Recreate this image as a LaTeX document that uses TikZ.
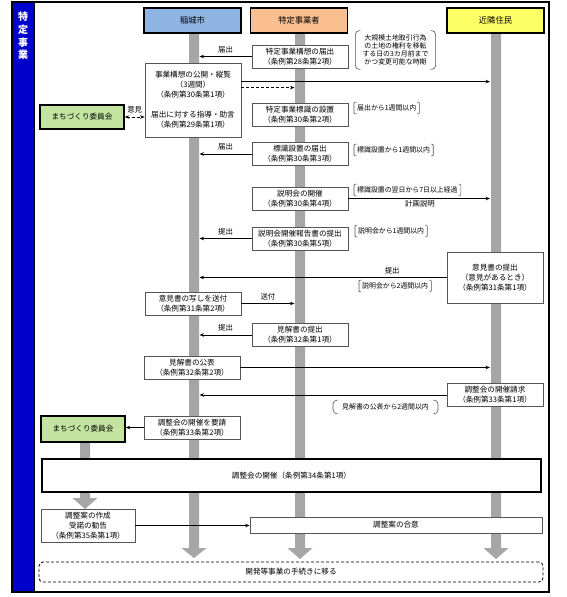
\documentclass[tikz,border=0pt]{standalone}
\usepackage{fontspec}
\setmainfont{Noto Sans CJK JP}
\usetikzlibrary{arrows.meta,calc}
\definecolor{barg}{HTML}{A6A6A6}
\definecolor{hblue}{HTML}{8DB4E2}
\definecolor{horange}{HTML}{FABF8F}
\definecolor{hyellow}{HTML}{FFFF66}
\definecolor{mgreen}{HTML}{C2E4A0}
\definecolor{band}{HTML}{0000CC}
\definecolor{boxline}{HTML}{555555}
\newcommand\greybar[4]{\fill[barg] (#1-5,#2) -- (#1+5,#2) -- (#1+5,#3) -- (#1+12.5,#3) -- (#1,#4) -- (#1-12.5,#3) -- (#1-5,#3) -- cycle;}
\newcommand\sqbrk[1]{%
  \draw[brkline,rounded corners=1pt] ($(#1.north west)+(2.5,0)$) -- (#1.north west) -- (#1.south west) -- ($(#1.south west)+(2.5,0)$);
  \draw[brkline,rounded corners=1pt] ($(#1.north east)+(-2.5,0)$) -- (#1.north east) -- (#1.south east) -- ($(#1.south east)+(-2.5,0)$);}
\newcommand\rdbrk[1]{%
  \draw[brkline,rounded corners=4pt] ($(#1.north west)+(5,0)$) -- (#1.north west) -- (#1.south west) -- ($(#1.south west)+(5,0)$);
  \draw[brkline,rounded corners=4pt] ($(#1.north east)+(-5,0)$) -- (#1.north east) -- (#1.south east) -- ($(#1.south east)+(-5,0)$);}
\tikzset{
  box/.style={draw=boxline, line width=0.8pt, fill=white, align=center, font=\fontsize{7.6}{10}\selectfont, inner sep=0pt, minimum width=96pt, minimum height=23pt},
  head/.style={draw=black, line width=1.6pt, align=center, font=\fontsize{8.3}{10}\selectfont, inner sep=0pt, minimum height=25pt, minimum width=97pt},
  iinkai/.style={draw=black, line width=1.4pt, fill=mgreen, font=\fontsize{7.6}{10}\selectfont, inner sep=0pt, minimum width=84pt, minimum height=24pt},
  note/.style={font=\fontsize{6.9}{8}\selectfont, inner xsep=3pt, inner ysep=2.5pt, align=center},
  brkline/.style={draw=boxline, line width=0.6pt},
  arr/.style={-{Stealth[length=4.5pt,width=3.5pt]}, line width=0.9pt},
  arrboth/.style={{Stealth[length=4.5pt,width=3.5pt]}-{Stealth[length=4.5pt,width=3.5pt]}, line width=0.9pt},
  dsh/.style={dash pattern=on 3pt off 2pt},
  lbl/.style={font=\fontsize{7.4}{9}\selectfont, inner sep=0pt},
}
\begin{document}
\begin{tikzpicture}[x=1pt,y=-1pt]
\useasboundingbox (0,0) rectangle (567,597);
% frame
\fill[white] (12,2) rectangle (549,592);
\fill[band] (12,2) rectangle (34,592);
\draw[line width=1pt] (34,2) -- (34,592);
\draw[line width=1.5pt] (12,2) rectangle (549,592);
\node[text=white, align=center, font=\fontsize{10}{12.7}\selectfont\bfseries, inner sep=0pt] (bandlabel) at (23,36) {特\\定\\事\\業};
% lifelines
\greybar{194}{33}{548}{558}
\greybar{300}{33}{548}{559}
\greybar{496}{33}{548}{559}
\greybar{85}{442}{498}{509}
\coordinate (cityE) at (199.5,0);
\coordinate (bizW) at (294.5,0);
\coordinate (resW) at (490,0);
% headers
\node[head,fill=hblue] (h1) at (192.5,20.5) {稲城市};
\node[head,fill=horange] (h2) at (299,20.5) {特定事業者};
\node[head,fill=hyellow] (h3) at (495.5,20.5) {近隣住民};
% boxes
\node[box] (b28) at (300,56.5) {特定事業構想の届出\\（条例第28条第2項）};
\node[box, minimum height=74pt] (b30a) at (193,100) {事業構想の公開・縦覧\\（3週間）\\（条例第30条第1項）\\[10pt]届出に対する指導・助言\\（条例第29条第1項）};
\node[iinkai] (m1) at (82,117) {まちづくり委員会};
\node[box] (b30b) at (300,115) {特定事業標識の設置\\（条例第30条第2項）};
\node[box] (b30c) at (300,154) {標識設置の届出\\（条例第30条第3項）};
\node[box] (b30d) at (300,198.5) {説明会の開催\\（条例第30条第4項）};
\node[box] (b30e) at (300,238.5) {説明会開催報告書の提出\\（条例第30条第5項）};
\node[box, minimum height=51pt] (b31a) at (495,277.5) {意見書の提出\\（意見があるとき）\\（条例第31条第1項）};
\node[box] (b31b) at (193,303.5) {意見書の写しを送付\\（条例第31条第2項）};
\node[box] (b32a) at (300,335) {見解書の提出\\（条例第32条第1項）};
\node[box] (b32b) at (192,367.5) {見解書の公表\\（条例第32条第2項）};
\node[box] (b33a) at (495,395) {調整会の開催請求\\（条例第33条第1項）};
\node[box] (b33b) at (192,427.5) {調整会の開催を要請\\（条例第33条第2項）};
\node[iinkai, minimum height=26pt] (m2) at (83,429) {まちづくり委員会};
\node[box, draw=black, line width=1.3pt, minimum width=499pt, minimum height=33pt] (b34) at (291.5,475.5) {調整会の開催（条例第34条第1項）};
\node[box, minimum width=94pt, minimum height=33pt] (b35) at (88,525.5) {調整案の作成\\受諾の勧告\\（条例第35条第1項）};
\node[box, minimum width=292pt, minimum height=16pt] (agree) at (396,525) {調整案の合意};
\node[box, dsh, draw=black, rounded corners=4pt, minimum width=504pt, minimum height=20pt] (next) at (291,572) {開発等事業の手続きに移る};
% notes
\node[note, inner xsep=7pt, inner ysep=4pt] (n1) at (395.5,50) {大規模土地取引行為\\の土地の権利を移転\\する日の3カ月前まで\\かつ変更可能な時期};
\rdbrk{n1}
\node[note, anchor=west] (n2) at (354,108) {届出から1週間以内};
\sqbrk{n2}
\node[note, anchor=west] (n3) at (354,150) {標識設置から1週間以内};
\sqbrk{n3}
\node[note, anchor=west] (n4) at (354,190) {標識設置の翌日から7日以上経過};
\sqbrk{n4}
\node[lbl] (plan) at (420,204) {計画説明};
\node[note, anchor=west] (n5) at (355,231) {説明会から1週間以内};
\sqbrk{n5}
\node[note, anchor=west] (n6) at (359,286) {説明会から2週間以内};
\sqbrk{n6}
\node[note, anchor=west, inner xsep=9pt, inner ysep=3.5pt] (n7) at (333,407) {見解書の公表から2週間以内};
\rdbrk{n7}
% connectors
\coordinate (p1) at ($(b30a.north east)+(0,19)$);
\coordinate (p2) at ($(b30a.north east)+(0,25)$);
\draw[arr] (b28.west) -- (b28.west -| cityE) node[lbl, midway, above=3pt] {届出};
\draw[arr] (p1) -- (p1 -| resW);
\draw[arr, dsh] (p2) -- (p2 -| bizW);
\draw[arrboth, dsh] (m1.east) -- (b30a.west |- m1.east) node[lbl, midway, above=3pt] {意見};
\draw[arr] (b30c.west) -- (b30c.west -| cityE) node[lbl, midway, above=3pt] {届出};
\draw[arr] (b30d.east) -- (b30d.east -| resW);
\draw[arr] (b30e.west) -- (b30e.west -| cityE) node[lbl, midway, above=3pt] {提出};
\draw[arr] (b31a.west) -- (b31a.west -| cityE) node[lbl, pos=0.22, above=3pt] {提出};
\draw[arr] (b31b.east) -- (b31b.east -| bizW) node[lbl, midway, above=3pt] {送付};
\draw[arr] (b32a.west) -- (b32a.west -| cityE) node[lbl, midway, above=3pt] {提出};
\draw[arr] (b32b.east) -- (b32b.east -| resW);
\draw[arr] (b33a.west) -- (b33a.west -| cityE);
\draw[arr] (b33b.west) -- (b33b.west -| m2.east);
\draw[arr] (b35.east) -- (agree.west |- b35.east);
\end{tikzpicture}
\end{document}
